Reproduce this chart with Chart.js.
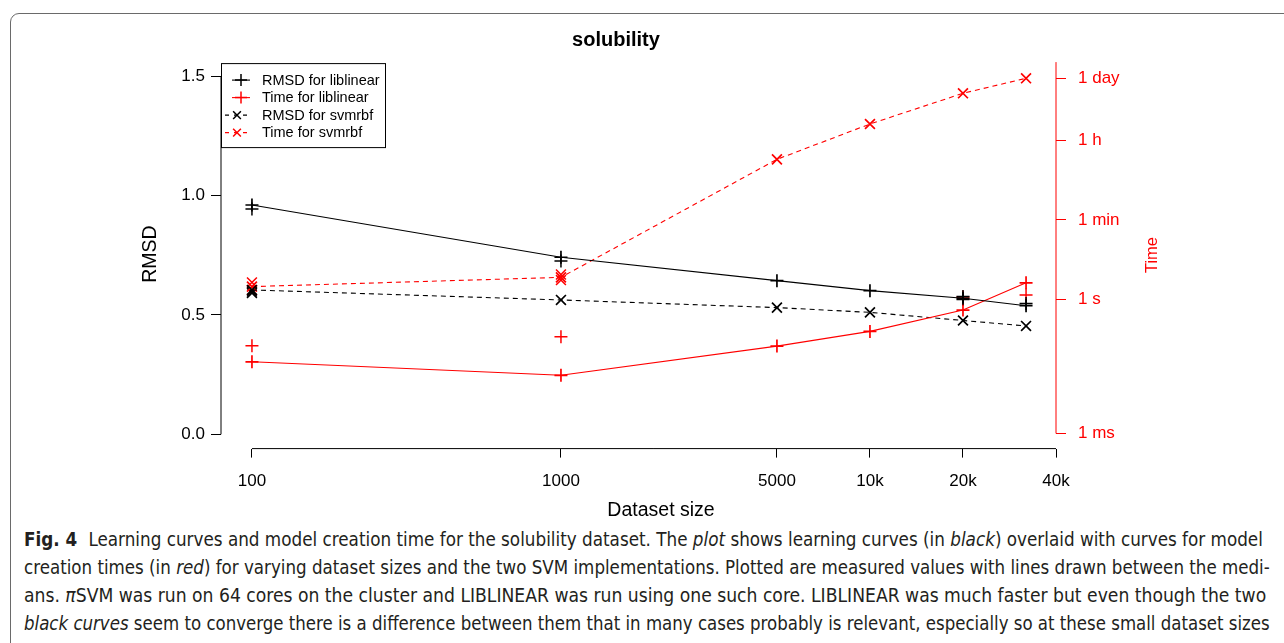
<!DOCTYPE html>
<html>
<head>
<meta charset="utf-8">
<script src="https://cdn.jsdelivr.net/npm/chart.js@4.4.0/dist/chart.umd.min.js"></script>
<style>
  html, body { margin: 0; padding: 0; background: #fff; width: 1284px; height: 643px; overflow: hidden; }
  #frame { position: absolute; left: 10px; top: 13px; width: 1320px; height: 700px; border: 1.2px solid #6a6a6a; border-radius: 9px; box-sizing: border-box; }
  #wrap { position: absolute; left: 0; top: 0; width: 1284px; height: 520px; }
  .cap { position: absolute; left: 24px; white-space: nowrap; font-family: "Liberation Sans Narrow", "DejaVu Sans Condensed", "Liberation Sans", sans-serif; font-size: 19px; line-height: 22px; color: #231f20; transform-origin: 0 50%; }
  .cap b { font-weight: bold; margin-right: 6px; }
</style>
</head>
<body>
<div id="frame"></div>
<div id="wrap"><canvas id="chart" width="1284" height="520"></canvas></div>
<div class="cap" style="top:528px" data-w="1239"><b>Fig. 4</b> Learning curves and model creation time for the solubility dataset. The <i>plot</i> shows learning curves (in <i>black</i>) overlaid with curves for model</div>
<div class="cap" style="top:556px" data-w="1246">creation times (in <i>red</i>) for varying dataset sizes and the two SVM implementations. Plotted are measured values with lines drawn between the medi-</div>
<div class="cap" style="top:584px" data-w="1242">ans. <i>π</i>SVM was run on 64 cores on the cluster and LIBLINEAR was run using one such core. LIBLINEAR was much faster but even though the two</div>
<div class="cap" style="top:612px" data-w="1246"><i>black curves</i> seem to converge there is a difference between them that in many cases probably is relevant, especially so at these small dataset sizes</div>
<script>
// Dataset sizes and the median values between which the curves are drawn
const sizes = [100, 1000, 5000, 10000, 20000, 32000];
const rmsdLiblinear = [0.961, 0.742, 0.644, 0.602, 0.570, 0.539];
const timeLiblinear = [0.040, 0.020, 0.090, 0.192, 0.576, 2.35];   // seconds
const rmsdSvmrbf = [0.605, 0.563, 0.531, 0.511, 0.477, 0.454];
const timeSvmrbf = [1.93, 3.11, 1361, 8400, 40900, 88600];          // seconds

// Individual measured runs (besides the medians)
const rmsdLiblinearRunSizes = [100, 1000, 20000, 20000, 32000];
const rmsdLiblinearRuns = [0.944, 0.726, 0.577, 0.565, 0.548];
const timeLiblinearRunSizes = [100, 1000, 20000, 32000];
const timeLiblinearRuns = [0.091, 0.146, 1.13, 1.25];
const rmsdSvmrbfRunSizes = [100, 100];
const rmsdSvmrbfRuns = [0.592, 0.598];
const timeSvmrbfRunSizes = [100, 100, 1000, 1000];
const timeSvmrbfRuns = [1.6, 2.4, 2.7, 3.6];

// Axis ticks
const xTickValues = [100, 1000, 5000, 10000, 20000, 40000];
const xTickLabels = ['100', '1000', '5000', '10k', '20k', '40k'];
const rmsdTickValues = [0, 0.5, 1.0, 1.5];
const rmsdTickLabels = ['0.0', '0.5', '1.0', '1.5'];
const timeTickValues = [0.001, 1, 60, 3600, 86400];
const timeTickLabels = ['1 ms', '1 s', '1 min', '1 h', '1 day'];

const seriesNames = ['RMSD for liblinear', 'Time for liblinear', 'RMSD for svmrbf', 'Time for svmrbf'];

const RED = '#ff0000';
const BLACK = '#000000';
const FONT = '"Liberation Sans", Arial, sans-serif';

const pts = (xs, ys) => xs.map((x, i) => ({ x: x, y: ys[i] }));

function medianSet(name, xs, ys, axis, color, style, dashed) {
  return {
    label: name, data: pts(xs, ys), yAxisID: axis, showLine: true,
    borderColor: color, backgroundColor: color, borderWidth: 1.1,
    borderDash: dashed ? [5, 4] : [],
    pointStyle: style, pointRadius: style === 'cross' ? 6.5 : 7,
    pointBorderColor: color, pointBackgroundColor: color, pointBorderWidth: 1.7,
    pointHoverRadius: 0, tension: 0
  };
}
function runSet(xs, ys, axis, color, style) {
  return {
    label: '', data: pts(xs, ys), yAxisID: axis, showLine: false,
    borderColor: color, backgroundColor: color,
    pointStyle: style, pointRadius: style === 'cross' ? 6.5 : 7,
    pointBorderColor: color, pointBackgroundColor: color, pointBorderWidth: 1.5,
    pointHoverRadius: 0
  };
}

const datasets = [
  medianSet(seriesNames[0], sizes, rmsdLiblinear, 'y', BLACK, 'cross', false),
  medianSet(seriesNames[1], sizes, timeLiblinear, 'y2', RED, 'cross', false),
  medianSet(seriesNames[2], sizes, rmsdSvmrbf, 'y', BLACK, 'crossRot', true),
  medianSet(seriesNames[3], sizes, timeSvmrbf, 'y2', RED, 'crossRot', true),
  runSet(rmsdLiblinearRunSizes, rmsdLiblinearRuns, 'y', BLACK, 'cross'),
  runSet(timeLiblinearRunSizes, timeLiblinearRuns, 'y2', RED, 'cross'),
  runSet(rmsdSvmrbfRunSizes, rmsdSvmrbfRuns, 'y', BLACK, 'crossRot'),
  runSet(timeSvmrbfRunSizes, timeSvmrbfRuns, 'y2', RED, 'crossRot')
];

function fixedTicks(values) {
  return function (scale) { scale.ticks = values.map(v => ({ value: v })); };
}

// Axis lines, titles and the boxed legend
const decorations = {
  id: 'decorations',
  afterDraw(chart) {
    const ctx = chart.ctx;
    const a = chart.chartArea;
    const sx = chart.scales.x, sy = chart.scales.y, sy2 = chart.scales.y2;
    ctx.save();

    // axis lines spanning the tick range
    ctx.lineWidth = 1;
    ctx.strokeStyle = BLACK;
    ctx.beginPath();
    ctx.moveTo(sx.getPixelForValue(xTickValues[0]), a.bottom);
    ctx.lineTo(sx.getPixelForValue(xTickValues[xTickValues.length - 1]), a.bottom);
    ctx.moveTo(a.left, sy.getPixelForValue(rmsdTickValues[0]));
    ctx.lineTo(a.left, sy.getPixelForValue(rmsdTickValues[rmsdTickValues.length - 1]));
    ctx.stroke();
    ctx.strokeStyle = RED;
    ctx.beginPath();
    ctx.moveTo(a.right, a.top);
    ctx.lineTo(a.right, sy2.getPixelForValue(timeTickValues[0]));
    ctx.stroke();

    // titles
    ctx.fillStyle = BLACK;
    ctx.textAlign = 'center';
    ctx.textBaseline = 'middle';
    ctx.font = 'bold 20px ' + FONT;
    ctx.fillText('solubility', 616, 40);
    ctx.font = '19.5px ' + FONT;
    ctx.fillText('Dataset size', 661, 511);
    ctx.save();
    ctx.translate(151, 254);
    ctx.rotate(-Math.PI / 2);
    ctx.fillText('RMSD', 0, 0);
    ctx.restore();
    ctx.save();
    ctx.fillStyle = RED;
    ctx.font = '16.5px ' + FONT;
    ctx.translate(1152, 255);
    ctx.rotate(-Math.PI / 2);
    ctx.fillText('Time', 0, 0);
    ctx.restore();

    // legend box in the top-left corner of the plot
    const lx = a.left, ly = a.top + 1, lw = 164, lh = 84;
    ctx.fillStyle = '#fff';
    ctx.fillRect(lx, ly, lw, lh);
    ctx.strokeStyle = BLACK;
    ctx.lineWidth = 1;
    ctx.strokeRect(lx + 0.5, ly + 0.5, lw, lh);
    ctx.font = '14.5px ' + FONT;
    ctx.textAlign = 'left';
    for (let i = 0; i < 4; i++) {
      const ds = chart.data.datasets[i];
      const yy = ly + 17 + i * 17.5;
      ctx.strokeStyle = ds.borderColor;
      ctx.lineWidth = 1.1;
      if (ds.borderDash.length) {
        ctx.setLineDash([4, 5]);
        ctx.beginPath(); ctx.moveTo(lx + 4, yy); ctx.lineTo(lx + 28, yy); ctx.stroke();
        ctx.setLineDash([]);
      } else {
        ctx.beginPath(); ctx.moveTo(lx + 11, yy); ctx.lineTo(lx + 29, yy); ctx.stroke();
      }
      ctx.lineWidth = 1.5;
      Chart.helpers.drawPoint(ctx, { pointStyle: ds.pointStyle, radius: ds.pointStyle === 'cross' ? 6 : 5.5, borderWidth: 1.5, rotation: 0 },
        ds.borderDash.length ? lx + 16 : lx + 20, yy);
      ctx.fillStyle = BLACK;
      ctx.fillText(ds.label, lx + 41, yy + 0.5);
    }
    ctx.restore();
  }
};

new Chart(document.getElementById('chart'), {
  type: 'scatter',
  data: { datasets: datasets },
  options: {
    responsive: false,
    animation: false,
    devicePixelRatio: 1,
    layout: { padding: { top: 62.1, left: 0, right: 0, bottom: 0 } },
    plugins: { legend: { display: false }, tooltip: { enabled: false }, title: { display: false } },
    scales: {
      x: {
        type: 'logarithmic', position: 'bottom',
        min: 79.4, max: 40000,
        afterBuildTicks: fixedTicks(xTickValues),
        afterFit(s) { s.height = 520 - 448.6; },
        border: { display: false },
        grid: { drawOnChartArea: false, drawTicks: true, tickLength: 9, color: BLACK, lineWidth: 1 },
        ticks: {
          autoSkip: false, maxRotation: 0, padding: 14, color: BLACK,
          font: { family: FONT, size: 17 },
          callback: (v, i) => xTickLabels[i]
        }
      },
      y: {
        type: 'linear', position: 'left',
        min: -0.06, max: 1.56,
        afterBuildTicks: fixedTicks(rmsdTickValues),
        afterFit(s) { s.width = 221; },
        border: { display: false },
        grid: { drawOnChartArea: false, drawTicks: true, tickLength: 10, color: BLACK, lineWidth: 1 },
        ticks: {
          padding: 6, color: BLACK,
          font: { family: FONT, size: 17 },
          callback: (v, i) => rmsdTickLabels[i]
        }
      },
      y2: {
        type: 'logarithmic', position: 'right',
        min: Math.pow(10, -3.34), max: Math.pow(10, 5.31),
        afterBuildTicks: fixedTicks(timeTickValues),
        afterFit(s) { s.width = 1284 - 1056; },
        border: { display: false },
        grid: { drawOnChartArea: false, drawTicks: true, tickLength: 10, color: RED, lineWidth: 1 },
        ticks: {
          padding: 12, color: RED,
          font: { family: FONT, size: 17 },
          callback: (v, i) => timeTickLabels[i]
        }
      }
    }
  },
  plugins: [decorations]
});

// Fit each caption line to its justified width
document.querySelectorAll('.cap').forEach(el => {
  const target = parseFloat(el.dataset.w);
  const w = el.scrollWidth;
  if (w > 0) el.style.transform = 'scaleX(' + (target / w) + ')';
});
</script>
</body>
</html>
